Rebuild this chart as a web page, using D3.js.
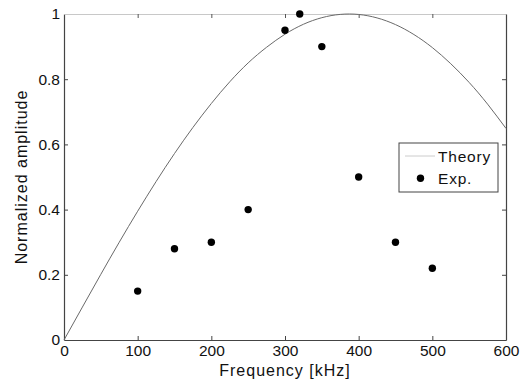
<!DOCTYPE html>
<html>
<head>
<meta charset="utf-8">
<script src="https://cdn.jsdelivr.net/npm/d3@7"></script>
<style>
  body { margin: 0; background: #fff; }
  svg { display: block; font-family: "Liberation Sans", Arial, sans-serif; }
</style>
</head>
<body>
<div id="chart"></div>
<script>
// theory curve, every 25 kHz
const theoryFreq = [0, 25, 50, 75, 100, 125, 150, 175, 200, 225, 250, 275, 300,
  325, 350, 375, 400, 425, 450, 475, 500, 525, 550, 575, 600];
const theoryAmp = [0, 0.101, 0.2015, 0.300, 0.395, 0.486, 0.572, 0.652, 0.7255, 0.792,
  0.850, 0.898, 0.938, 0.9685, 0.9887, 0.9988, 0.9986, 0.988, 0.9675, 0.937,
  0.897, 0.8475, 0.790, 0.7235, 0.649];

// measured points
const expFreq = [100, 150, 200, 250, 300, 320, 350, 400, 450, 500];
const expAmp = [0.15, 0.28, 0.30, 0.40, 0.95, 1.0, 0.90, 0.50, 0.30, 0.22];

const xTicks = [0, 100, 200, 300, 400, 500, 600];
const yTicks = [0, 0.2, 0.4, 0.6, 0.8, 1];

const W = 524, H = 389;
const margin = {top: 14, right: 18, bottom: 49, left: 64};

const svg = d3.select("#chart").append("svg")
    .attr("width", W)
    .attr("height", H);

const x = d3.scaleLinear().domain([0, 600]).range([margin.left, W - margin.right]);
const y = d3.scaleLinear().domain([0, 1]).range([H - margin.bottom, margin.top]);

// axes with inward ticks
const xAxis = svg.append("g")
    .attr("transform", `translate(0,${y(0)})`)
    .call(d3.axisBottom(x).tickValues(xTicks).tickSizeInner(-4).tickSizeOuter(0).tickPadding(5));
const yAxis = svg.append("g")
    .attr("transform", `translate(${x(0)},0)`)
    .call(d3.axisLeft(y).tickValues(yTicks).tickFormat(d3.format("~g")).tickSizeInner(-4).tickSizeOuter(0).tickPadding(4));
const topAxis = svg.append("g")
    .attr("transform", `translate(0,${y(1)})`)
    .call(d3.axisTop(x).tickValues(xTicks).tickSizeInner(-4).tickSizeOuter(0).tickFormat(""));
const rightAxis = svg.append("g")
    .attr("transform", `translate(${x(600)},0)`)
    .call(d3.axisRight(y).tickValues(yTicks).tickSizeInner(-4).tickSizeOuter(0).tickFormat(""));

[xAxis, yAxis, rightAxis].forEach(g => {
  g.select(".domain").attr("stroke", "#444").attr("stroke-width", 1.2);
  g.selectAll(".tick line").attr("stroke", "#444");
});
topAxis.select(".domain").attr("stroke", "#c8c8c8").attr("stroke-width", 1.2);
topAxis.selectAll(".tick line").attr("stroke", "#555");

[xAxis, yAxis].forEach(g => {
  g.selectAll(".tick text").attr("font-size", 15.5).attr("fill", "#111")
    .attr("font-family", "Liberation Sans, Arial, sans-serif");
});
// no tick marks at the corners
xAxis.selectAll(".tick line").filter(d => d === 0 || d === 600).remove();
yAxis.selectAll(".tick line").filter(d => d === 0 || d === 1).remove();
topAxis.selectAll(".tick line").filter(d => d === 0 || d === 600).remove();
rightAxis.selectAll(".tick line").filter(d => d === 0 || d === 1).remove();

// theory curve
const theory = theoryFreq.map((f, i) => [f, theoryAmp[i]]);
svg.append("path")
    .datum(theory)
    .attr("fill", "none")
    .attr("stroke", "#6a6a6a")
    .attr("stroke-width", 1)
    .attr("d", d3.line().x(d => x(d[0])).y(d => y(d[1])).curve(d3.curveNatural));

// experimental points
const exp = expFreq.map((f, i) => [f, expAmp[i]]);
svg.append("g")
  .selectAll("circle")
  .data(exp)
  .join("circle")
    .attr("cx", d => x(d[0]))
    .attr("cy", d => y(d[1]))
    .attr("r", 3.7)
    .attr("fill", "#000");

// axis labels
svg.append("text")
    .attr("x", (x(0) + x(600)) / 2)
    .attr("y", 376)
    .attr("text-anchor", "middle")
    .attr("font-size", 16)
    .attr("letter-spacing", 1)
    .attr("fill", "#111")
    .text("Frequency [kHz]");

svg.append("text")
    .attr("transform", `translate(27,${(y(0) + y(1)) / 2}) rotate(-90)`)
    .attr("text-anchor", "middle")
    .attr("font-size", 16)
    .attr("letter-spacing", 1)
    .attr("fill", "#111")
    .text("Normalized amplitude");

// legend
const lg = svg.append("g").attr("transform", "translate(399,143)");
lg.append("rect")
    .attr("width", 99).attr("height", 49)
    .attr("fill", "#fff").attr("stroke", "#444").attr("stroke-width", 1);
lg.append("line")
    .attr("x1", 6).attr("x2", 36).attr("y1", 13).attr("y2", 13)
    .attr("stroke", "#ccc").attr("stroke-width", 1);
lg.append("text").attr("x", 39).attr("y", 19)
    .attr("font-size", 15.5).attr("letter-spacing", 0.8).attr("fill", "#111").text("Theory");
lg.append("circle").attr("cx", 21.5).attr("cy", 35.3).attr("r", 3.7).attr("fill", "#000");
lg.append("text").attr("x", 39).attr("y", 41)
    .attr("font-size", 15.5).attr("letter-spacing", 0.8).attr("fill", "#111").text("Exp.");
</script>
</body>
</html>
